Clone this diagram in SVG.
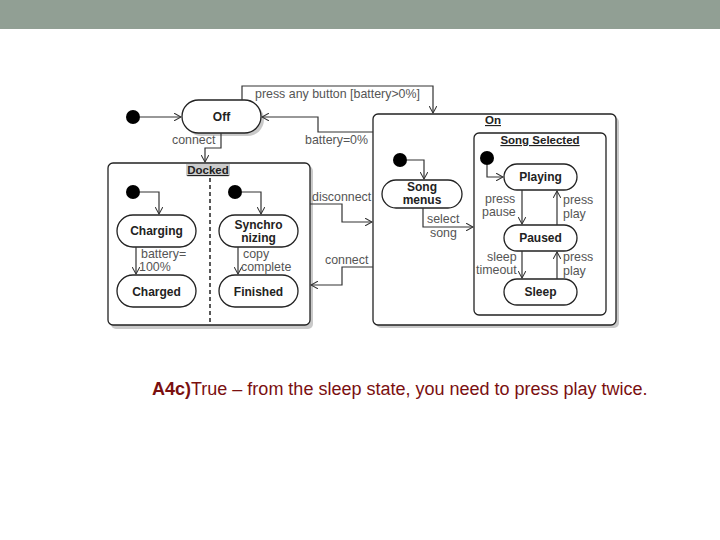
<svg xmlns="http://www.w3.org/2000/svg" width="720" height="540" viewBox="0 0 720 540">
<defs>
<style>
.st{fill:#fff;stroke:#222;stroke-width:1.3}
.box{fill:#fff;stroke:#222;stroke-width:1.3}
.sh{fill:#888;opacity:0.45}
.nl{font-family:"Liberation Sans",Arial,sans-serif;font-size:12px;font-weight:bold;fill:#222;text-anchor:middle}
.tl{font-family:"Liberation Sans",Arial,sans-serif;font-size:12.4px;fill:#555}
.bl{font-family:"Liberation Sans",Arial,sans-serif;font-size:11.5px;font-weight:bold;fill:#222;text-anchor:middle;text-decoration:underline}
.ed{fill:none;stroke:#333;stroke-width:1.2;marker-end:url(#ah)}
.dot{fill:#000}
</style>
<marker id="ah" viewBox="0 0 10 10" refX="9" refY="5" markerWidth="8" markerHeight="8" orient="auto" markerUnits="userSpaceOnUse">
<path d="M0,0 L9,5 L0,10" fill="none" stroke="#333" stroke-width="1.3"/>
</marker>
</defs>
<rect x="0" y="0" width="720" height="29" fill="#919f94"/>

<g id="docked">
<rect class="sh" x="111" y="166" width="202" height="163" rx="5"/>
<rect class="box" x="108" y="163" width="202" height="162" rx="5"/>
<rect x="186" y="164" width="44" height="12" fill="#ccc"/>
<text class="bl" x="208" y="174">Docked</text>
<line x1="210" y1="178" x2="210" y2="325" stroke="#222" stroke-width="1.5" stroke-dasharray="4,3"/>
</g>

<g id="on">
<rect class="sh" x="376" y="117" width="243" height="211" rx="5"/>
<rect class="box" x="373" y="114" width="243" height="211" rx="5"/>
<text class="bl" x="493" y="124">On</text>
</g>

<g id="songselected">
<rect class="box" x="474" y="133" width="132" height="182" rx="5"/>
<text class="bl" x="540" y="144">Song Selected</text>
</g>

<g id="init-off"><circle class="dot" cx="133" cy="117" r="7"/></g>
<g id="off">
<rect class="sh" x="185" y="103" width="79" height="33" rx="16.5"/>
<rect class="st" x="182" y="100" width="79" height="33" rx="16.5"/>
<text class="nl" x="221.5" y="121">Off</text>
</g>

<g id="init-charging"><circle class="dot" cx="133" cy="192" r="7"/></g>
<g id="charging">
<rect class="st" x="117" y="215" width="79" height="32" rx="16"/>
<text class="nl" x="156.5" y="235">Charging</text>
</g>
<g id="charged">
<rect class="st" x="117" y="275" width="79" height="32" rx="16"/>
<text class="nl" x="156.5" y="296">Charged</text>
</g>

<g id="init-sync"><circle class="dot" cx="235" cy="192" r="7"/></g>
<g id="synchronizing">
<rect class="st" x="219" y="215" width="79" height="32" rx="16"/>
<text class="nl" x="258.5" y="229">Synchro</text>
<text class="nl" x="258.5" y="242">nizing</text>
</g>
<g id="finished">
<rect class="st" x="219" y="275" width="79" height="32" rx="16"/>
<text class="nl" x="258.5" y="296">Finished</text>
</g>

<g id="init-menus"><circle class="dot" cx="400" cy="160" r="7"/></g>
<g id="songmenus">
<rect class="st" x="382" y="180" width="80" height="28" rx="14"/>
<text class="nl" x="422" y="191">Song</text>
<text class="nl" x="422" y="204">menus</text>
</g>

<g id="init-playing"><circle class="dot" cx="487" cy="158" r="7"/></g>
<g id="playing">
<rect class="st" x="504" y="164" width="73" height="26" rx="13"/>
<text class="nl" x="540.5" y="181">Playing</text>
</g>
<g id="paused">
<rect class="st" x="504" y="225" width="73" height="26" rx="13"/>
<text class="nl" x="540.5" y="242">Paused</text>
</g>
<g id="sleep">
<rect class="st" x="504" y="279" width="73" height="26" rx="13"/>
<text class="nl" x="540.5" y="296">Sleep</text>
</g>

<g id="connectors">
<path class="ed" d="M140,117 H181"/>
<path class="ed" d="M242,100 V86 H433 V113"/>
<path class="ed" d="M373,132 H318 V117 H262"/>
<path class="ed" d="M221,133 V148 H205 V162"/>
<path class="ed" d="M140,192 H159 V214"/>
<path class="ed" d="M136,247 V274"/>
<path class="ed" d="M242,192 H261 V214"/>
<path class="ed" d="M238,247 V274"/>
<path class="ed" d="M310,204 H342 V222 H372"/>
<path class="ed" d="M373,267 H342 V285 H311"/>
<path class="ed" d="M407,160 H424 V179"/>
<path class="ed" d="M423,208 V227 H473"/>
<path class="ed" d="M487,165 V177 H503"/>
<path class="ed" d="M522,190 V224"/>
<path class="ed" d="M557,225 V191"/>
<path class="ed" d="M522,251 V278"/>
<path class="ed" d="M557,279 V252"/>

<text class="tl" x="255" y="98">press any button [battery&gt;0%]</text>
<text class="tl" x="305" y="144">battery=0%</text>
<text class="tl" x="172" y="144">connect</text>
<text class="tl" x="141" y="258">battery=</text>
<text class="tl" x="139" y="271">100%</text>
<text class="tl" x="243" y="258">copy</text>
<text class="tl" x="241" y="271">complete</text>
<text class="tl" x="312" y="201">disconnect</text>
<text class="tl" x="325" y="264">connect</text>
<text class="tl" x="427" y="223">select</text>
<text class="tl" x="430" y="237">song</text>
<text class="tl" x="485" y="203">press</text>
<text class="tl" x="482" y="216">pause</text>
<text class="tl" x="563" y="204">press</text>
<text class="tl" x="563" y="218">play</text>
<text class="tl" x="487" y="261">sleep</text>
<text class="tl" x="476" y="274">timeout</text>
<text class="tl" x="563" y="261">press</text>
<text class="tl" x="563" y="275">play</text>
</g>

<text x="152" y="395" font-family="'Liberation Sans',Arial,sans-serif" font-size="18" fill="#7a1010"><tspan font-weight="bold">A4c)</tspan>True – from the sleep state, you need to press play twice.</text>
</svg>
